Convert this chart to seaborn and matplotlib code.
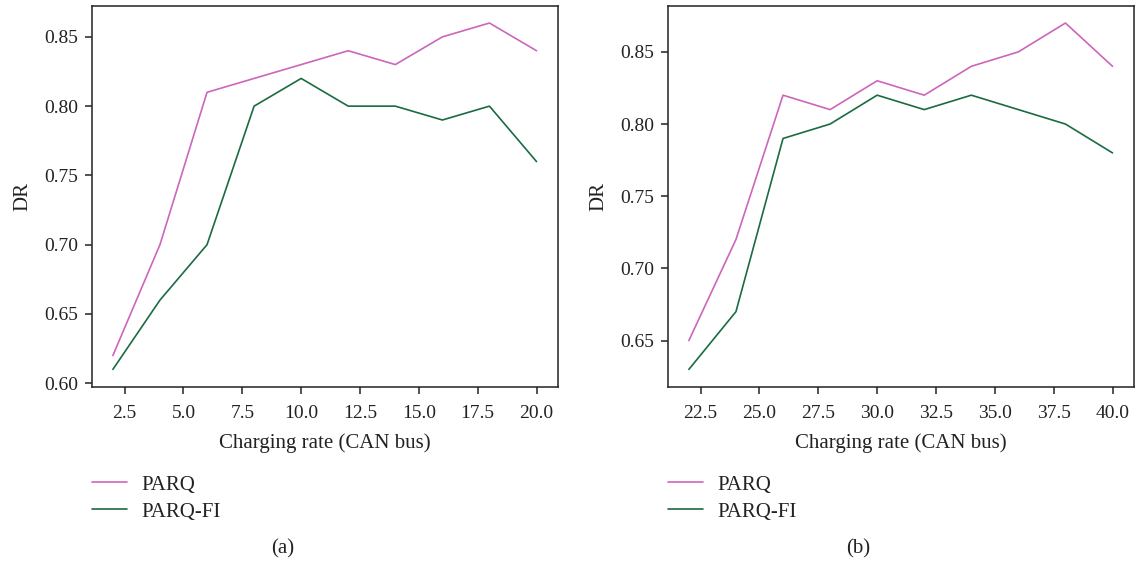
import matplotlib
matplotlib.use("Agg")
import matplotlib.pyplot as plt
import matplotlib.ticker as mticker
import seaborn as sns
import pandas as pd

# ---- data ----
rate_a = [2, 4, 6, 8, 10, 12, 14, 16, 18, 20]
parq_a = [0.62, 0.70, 0.81, 0.82, 0.83, 0.84, 0.83, 0.85, 0.86, 0.84]
parqfi_a = [0.61, 0.66, 0.70, 0.80, 0.82, 0.80, 0.80, 0.79, 0.80, 0.76]

rate_b = [22, 24, 26, 28, 30, 32, 34, 36, 38, 40]
parq_b = [0.65, 0.72, 0.82, 0.81, 0.83, 0.82, 0.84, 0.85, 0.87, 0.84]
parqfi_b = [0.63, 0.67, 0.79, 0.80, 0.82, 0.81, 0.82, 0.81, 0.80, 0.78]

series_names = ["PARQ", "PARQ-FI"]
captions = ["(a)", "(b)"]
xlabel = "Charging rate (CAN bus)"
ylabel = "DR"

sns.set_theme(style="ticks")
plt.rcParams["font.family"] = ["Liberation Serif", "DejaVu Serif"]
plt.rcParams["axes.edgecolor"] = "#222222"
plt.rcParams["xtick.color"] = "#222222"
plt.rcParams["ytick.color"] = "#222222"
plt.rcParams["text.color"] = "#222222"
plt.rcParams["axes.labelcolor"] = "#222222"

palette = {"PARQ": "#cc66bb", "PARQ-FI": "#1b6b42"}


def make_df(x, a, b):
    return pd.DataFrame({
        "rate": list(x) + list(x),
        "DR": list(a) + list(b),
        "series": [series_names[0]] * len(a) + [series_names[1]] * len(b),
    })


dfs = [make_df(rate_a, parq_a, parqfi_a), make_df(rate_b, parq_b, parqfi_b)]

W, H = 1137, 563
fig = plt.figure(figsize=(W / 100, H / 100), dpi=100)
ax_w = 466 / W
ax_h = 381 / H
bottom = 1 - 386.7 / H
lefts = [91.7 / W, 667.7 / W]
cap_x = [283 / W, 858 / W]

for i, df in enumerate(dfs):
    ax = fig.add_axes([lefts[i], bottom, ax_w, ax_h])
    sns.lineplot(data=df, x="rate", y="DR", hue="series", palette=palette,
                 linewidth=1.2, ax=ax)
    for s in ax.spines.values():
        s.set_visible(True)
        s.set_linewidth(1.1)
    ax.xaxis.set_major_locator(mticker.MultipleLocator(2.5))
    ax.yaxis.set_major_locator(mticker.MultipleLocator(0.05))
    ax.tick_params(axis="both", length=5, width=1.1, labelsize=14)
    ax.tick_params(axis="x", pad=8)
    ax.tick_params(axis="y", pad=5)
    ax.set_xlabel(xlabel, fontsize=15, labelpad=8)
    ax.set_ylabel(ylabel, fontsize=15, labelpad=8)
    ax.xaxis.set_major_formatter(mticker.FormatStrFormatter("%.1f"))
    ax.yaxis.set_major_formatter(mticker.FormatStrFormatter("%.2f"))
    handles, labels = ax.get_legend_handles_labels()
    ax.legend(handles, labels, loc="upper left", bbox_to_anchor=(0.0, -0.232),
              frameon=False, fontsize=15, borderpad=0, borderaxespad=0,
              handlelength=1.7, handletextpad=0.7, labelspacing=0.35)
    fig.text(cap_x[i], 1 - 549 / H, captions[i], ha="center", va="center",
             fontsize=15)

fig.savefig("out.png", dpi=100)
